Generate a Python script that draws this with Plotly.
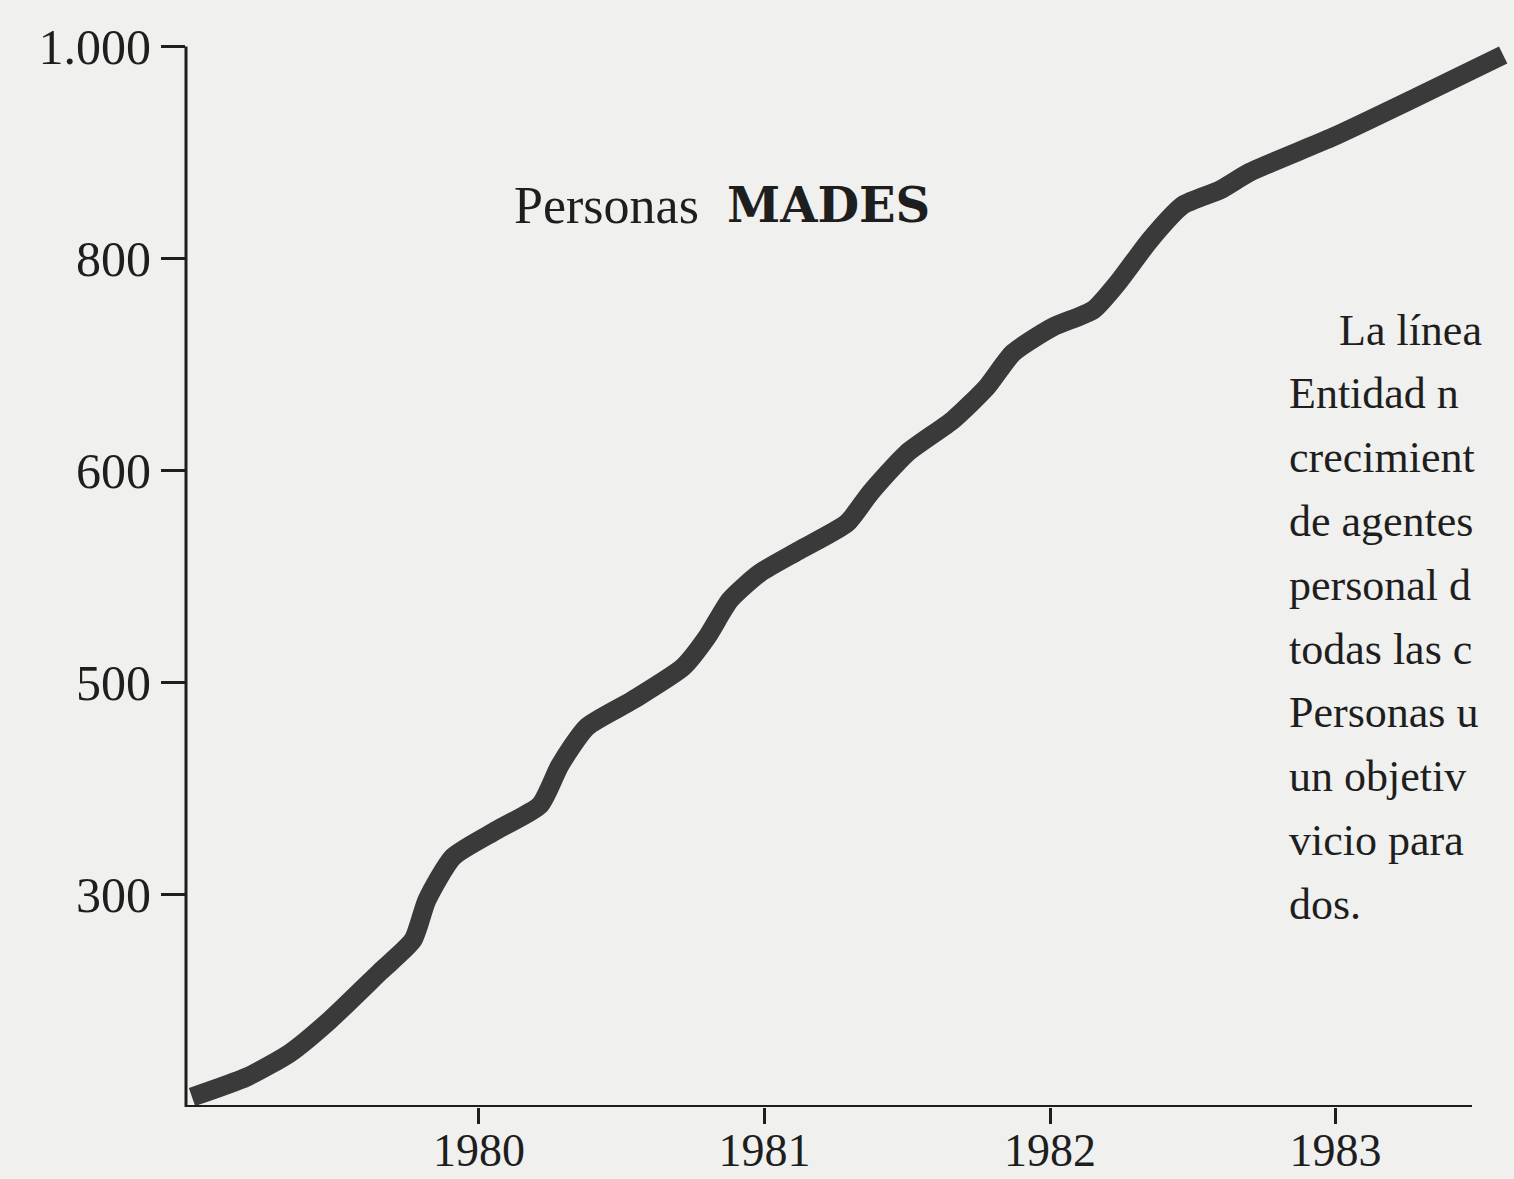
import plotly.graph_objects as go

# ---- data (y in plotted axis units) ----
years = [1978.995, 1979.187, 1979.338, 1979.478, 1979.653, 1979.769, 1979.818, 1979.909,
         1980.063, 1980.214, 1980.284, 1980.378, 1980.539, 1980.715, 1980.799, 1980.879,
         1980.984, 1981.124, 1981.289, 1981.370, 1981.499, 1981.660, 1981.779, 1981.870,
         1982.011, 1982.151, 1982.245, 1982.350, 1982.466, 1982.595, 1982.701, 1982.991,
         1983.285, 1983.587]
personas = [9.4, 28.3, 50.9, 82.0, 127.3, 157.5, 195.2, 235.8,
            261.2, 284.8, 322.5, 358.4, 383.8, 414.9, 443.2, 478.1,
            503.6, 525.3, 550.7, 579.0, 616.7, 647.9, 679.0, 711.0,
            735.6, 751.6, 779.9, 817.6, 850.6, 864.8, 881.7, 914.8,
            952.5, 992.1]

x_tickvals = [1980, 1981, 1982, 1983]
x_ticktext = ["1980", "1981", "1982", "1983"]
y_tickvals = [200, 400, 600, 800, 1000]
y_ticktext = ["300", "500", "600", "800", "1.000"]

title_word = "Personas"
title_brand = "MADES"
side_text = ["La línea", "Entidad n", "crecimient", "de agentes", "personal d",
             "todas las c", "Personas u", "un objetiv", "vicio para", "dos."]

# ---- figure ----
W, H = 1514, 1179
ML, MR, MT, MB = 186, 0, 36, 72
PW = W - ML - MR
PH = H - MT - MB

BG = "#f0f0ee"
INK = "#1e1e1e"
SERIF = "Liberation Serif"

fig = go.Figure()
fig.add_trace(go.Scatter(
    x=years, y=personas, mode="lines",
    line=dict(color="#3a3a3a", width=19, shape="spline", smoothing=0.6),
    hoverinfo="skip", showlegend=False,
))

x_axis_end_px = 1472
fig.add_shape(type="line", xref="paper", yref="y", x0=0, x1=0, y0=0, y1=1000,
              line=dict(color=INK, width=3), layer="above")
fig.add_shape(type="line", xref="paper", yref="y", x0=0,
              x1=(x_axis_end_px - ML) / PW, y0=0, y1=0,
              line=dict(color=INK, width=4), layer="above")

def px_to_paper_x(px):
    return (px - ML) / PW

def py_to_paper_y(py):
    return (H - MB - py) / PH

annotations = []
annotations.append(dict(text=title_word, xref="paper", yref="paper",
                        x=px_to_paper_x(512), y=py_to_paper_y(205),
                        xanchor="left", yanchor="middle", showarrow=False,
                        font=dict(family=SERIF, size=52, color=INK)))
annotations.append(dict(text="<b>" + title_brand + "</b>", xref="paper", yref="paper",
                        x=px_to_paper_x(725), y=py_to_paper_y(205),
                        xanchor="left", yanchor="middle", showarrow=False,
                        font=dict(family="DejaVu Serif", size=48, color=INK)))

line_gap = 63.8
for i, t in enumerate(side_text):
    left_px = 1337 if i == 0 else 1287
    annotations.append(dict(text=t, xref="paper", yref="paper",
                            x=px_to_paper_x(left_px), y=py_to_paper_y(330 + i * line_gap),
                            xanchor="left", yanchor="middle", showarrow=False,
                            font=dict(family=SERIF, size=44, color=INK)))

fig.update_layout(
    width=W, height=H,
    margin=dict(l=ML, r=MR, t=MT, b=MB, pad=0),
    paper_bgcolor=BG, plot_bgcolor=BG,
    annotations=annotations,
    xaxis=dict(range=[1978.974, 1983.625], tickvals=x_tickvals, ticktext=x_ticktext,
               ticks="outside", ticklen=16, tickwidth=2.5, tickcolor=INK,
               ticklabelstandoff=-13,
               showline=False, showgrid=False, zeroline=False, automargin=False,
               tickfont=dict(family=SERIF, size=46, color=INK), fixedrange=True),
    yaxis=dict(range=[0, 1010], tickvals=y_tickvals, ticktext=y_ticktext,
               ticks="outside", ticklen=24, tickwidth=2.5, tickcolor=INK,
               showline=False, showgrid=False, zeroline=False, automargin=False,
               tickfont=dict(family=SERIF, size=50, color=INK), fixedrange=True),
)

fig.write_html("out.html", config={"displayModeBar": False},
               post_script="document.body.style.margin='0';document.body.style.overflow='hidden';")
